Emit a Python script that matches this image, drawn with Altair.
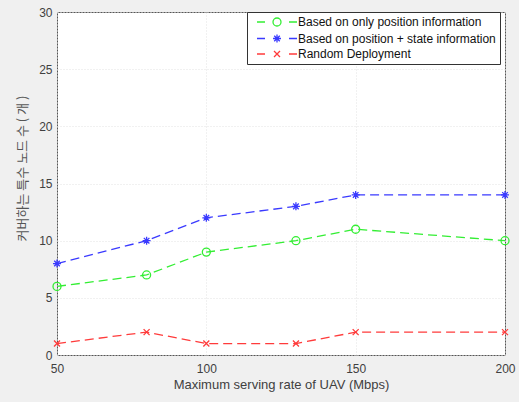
import altair as alt
import pandas as pd

rates = [50, 80, 100, 130, 150, 200]
only_position = [6, 7, 9, 10, 11, 10]
position_state = [8, 10, 12, 13, 14, 14]
random_deploy = [1, 2, 1, 1, 2, 2]
series_names = [
    "Based on only position information",
    "Based on position + state information",
    "Random Deployment",
]
series_colors = ["#33ee33", "#3a3aff", "#ff3b3b"]
x_ticks = [50, 100, 150, 200]
y_ticks = [0, 5, 10, 15, 20, 25, 30]
x_title = "Maximum serving rate of UAV (Mbps)"
y_title = "커버하는 특수 노드 수 ( 개 )"

rows = []
for name, vals in zip(series_names, [only_position, position_state, random_deploy]):
    for r, v in zip(rates, vals):
        rows.append({"rate": r, "count": v, "series": name})
df = pd.DataFrame(rows)

star = "M-1,0L1,0M0,-1L0,1M-0.7,-0.7L0.7,0.7M-0.7,0.7L0.7,-0.7"
cross = "M-0.75,-0.75L0.75,0.75M-0.75,0.75L0.75,-0.75"
ring = "M-1,0A1,1,0,1,1,1,0A1,1,0,1,1,-1,0"
dash = "M-5,0L-3,0M3,0L5,0"
marker_shapes = ["circle", star, cross]
legend_paths = [dash + ring, dash + star, dash + cross]

x_enc = alt.X(
    "rate:Q",
    scale=alt.Scale(domain=[50, 200], nice=False, zero=False),
    axis=alt.Axis(
        values=x_ticks, title=x_title, ticks=False, domain=False, labelFlush=False,
        labelPadding=8, titlePadding=4, labelFontSize=12, titleFontSize=13,
        titleFontWeight="normal", labelColor="#404040", titleColor="#404040",
        labelFont="Liberation Sans", titleFont="Liberation Sans",
        gridColor="#e2e2e2", gridDash=[1, 2],
    ),
)
y_enc = alt.Y(
    "count:Q",
    scale=alt.Scale(domain=[0, 30], nice=False),
    axis=alt.Axis(
        values=y_ticks, title=y_title, ticks=False, domain=False, labelFlush=False,
        labelPadding=5, labelFontSize=12, titleFontSize=13,
        titleFontWeight="normal", labelColor="#404040", titleColor="#555555",
        labelFont="Liberation Sans", titleFont="Noto Sans CJK KR",
        titleX=-35, titleY=156, titleAngle=270, titleBaseline="middle",
        titleAlign="center",
        gridColor="#e2e2e2", gridDash=[1, 2],
    ),
)
color_scale = alt.Scale(domain=series_names, range=series_colors)

lines = alt.Chart(df).mark_line(strokeDash=[9, 5], strokeWidth=1.3).encode(
    x=x_enc, y=y_enc,
    color=alt.Color("series:N", scale=color_scale, legend=None),
)

points = alt.Chart(df).mark_point(filled=False, size=64, strokeWidth=1.3, opacity=1).encode(
    x=x_enc, y=y_enc,
    color=alt.Color("series:N", scale=color_scale, legend=None),
    shape=alt.Shape(
        "series:N",
        scale=alt.Scale(domain=series_names, range=marker_shapes),
        legend=None,
    ),
)

legend_opts = dict(
    title=None, orient="none", legendX=190, legendY=0,
    fillColor="white", strokeColor="#333333", padding=4,
    labelFont="Liberation Sans", labelFontSize=12, labelColor="#111111",
    labelLimit=400, symbolSize=64, symbolStrokeWidth=1.3, symbolOffset=20,
    labelOffset=15, rowPadding=2.5, symbolFillColor="transparent",
)

legend_layer = alt.Chart(df).transform_filter("datum.count < 0").mark_point(
    filled=False, size=64, strokeWidth=1.3, opacity=1
).encode(
    x=x_enc, y=y_enc,
    color=alt.Color(
        "series:N", scale=color_scale, sort=series_names,
        legend=alt.Legend(**legend_opts),
    ),
    shape=alt.Shape(
        "series:N", sort=series_names,
        scale=alt.Scale(domain=series_names, range=legend_paths),
        legend=alt.Legend(**legend_opts),
    ),
)

chart = alt.layer(lines, points, legend_layer).resolve_scale(
    shape="independent"
).resolve_legend(shape="independent", color="independent").properties(
    width=448, height=343,
    autosize=alt.AutoSizeParams(type="none"),
    padding={"left": 57, "top": 12, "right": 14, "bottom": 47},
    background="#f0f0f0",
).configure_view(stroke="#555555", strokeWidth=1, fill="white")

chart.save("out.html", embed_options={"renderer": "svg", "actions": False})
